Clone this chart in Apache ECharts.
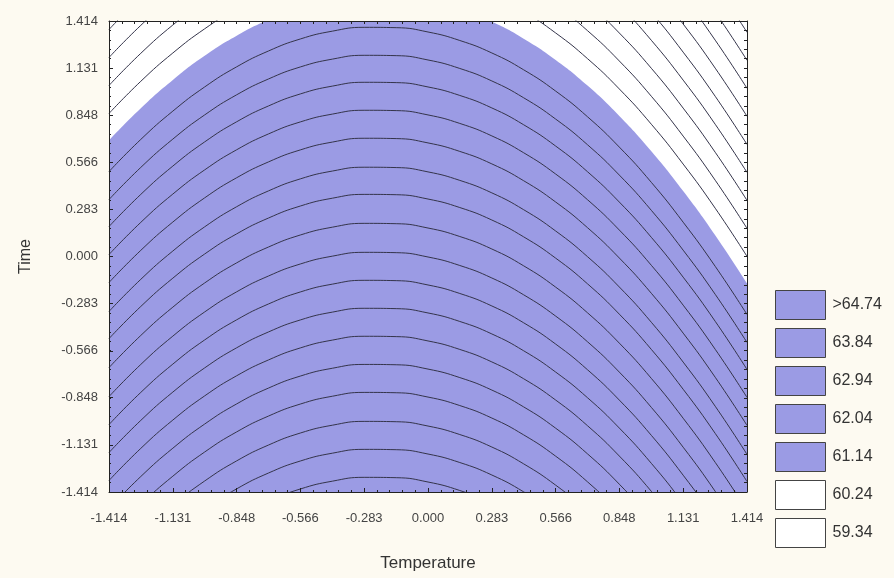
<!DOCTYPE html>
<html>
<head>
<meta charset="utf-8">
<script src="https://cdn.jsdelivr.net/npm/echarts@6/dist/echarts.min.js"></script>
<style>
  html, body { margin: 0; padding: 0; background: #fdfaf1; }
  #chart { width: 894px; height: 578px; }
</style>
</head>
<body>
<div id="chart"></div>
<script>
// Axis ticks (coded design levels) and their printed labels
const axisTicks = [-1.414, -1.131, -0.848, -0.566, -0.283, 0, 0.283, 0.566, 0.848, 1.131, 1.414];
const tickLabels = ['-1.414', '-1.131', '-0.848', '-0.566', '-0.283', '0.000', '0.283', '0.566', '0.848', '1.131', '1.414'];

// Temperature positions at which each contour line is traced
const tempGrid = [-1.414, -1.273, -1.131, -0.990, -0.848, -0.707, -0.566, -0.424, -0.283, -0.141, 0,
                  0.141, 0.283, 0.424, 0.566, 0.707, 0.848, 0.990, 1.131, 1.273, 1.414];
// How far (in Time units) a contour line sits below its crest at each Temperature position
const contourProfile = [0.868, 0.675, 0.505, 0.360, 0.239, 0.144, 0.072, 0.025, 0.002, 0.004, 0.030,
                        0.081, 0.156, 0.257, 0.385, 0.539, 0.721, 0.933, 1.172, 1.437, 1.726];

// Crest height of each contour line inside the shaded region
const innerCrests = [1.378, 1.210, 1.048, 0.880, 0.712, 0.538, 0.375, 0.201, 0.027,
                     -0.141, -0.309, -0.477, -0.646, -0.814, -0.988, -1.156, -1.324];
// Crest height of each contour line in the unshaded corners
const outerCrests = [1.727, 1.895, 2.063, 2.231, 2.399, 2.568, 2.736, 2.904, 3.072];
// Crest height of the edge of the shaded region
const fillCrest = 1.565;

// Legend classes
const legendLabels = ['>64.74', '63.84', '62.94', '62.04', '61.14', '60.24', '59.34'];
const legendShaded = [true, true, true, true, true, false, false];

const FILL = '#9b9be4';
const LINE = '#34344a';

function curve(crest) {
  return tempGrid.map((x, i) => [x, +(crest - contourProfile[i]).toFixed(3)]);
}

const series = [];
series.push({
  name: 'region',
  type: 'line',
  data: curve(fillCrest),
  smooth: true,
  symbol: 'none',
  silent: true,
  clip: true,
  lineStyle: { width: 0, opacity: 0 },
  areaStyle: { color: FILL, opacity: 1, origin: 'start' },
  z: 2
});
innerCrests.concat(outerCrests).forEach((c, k) => {
  series.push({
    name: 'contour' + k,
    type: 'line',
    data: curve(c),
    smooth: true,
    symbol: 'none',
    silent: true,
    clip: true,
    lineStyle: { color: LINE, width: 1 },
    z: 3
  });
});
legendLabels.forEach((lab, i) => {
  series.push({
    name: lab,
    type: 'scatter',
    data: [],
    itemStyle: { color: legendShaded[i] ? FILL : '#ffffff', opacity: 1 }
  });
});

const frame = '#222';
const font = 'Liberation Sans, Arial, sans-serif';
const fine = 0.05656;
const tickText = v => { const i = axisTicks.indexOf(v); return i >= 0 ? tickLabels[i] : v.toFixed(3); };

const option = {
  backgroundColor: '#fdfaf1',
  animation: false,
  grid: { left: 109, top: 21, width: 638, height: 471, show: true, backgroundColor: '#ffffff', borderWidth: 0 },
  legend: {
    orient: 'vertical',
    left: 775,
    top: 290,
    padding: 0,
    itemWidth: 50,
    itemHeight: 29,
    itemGap: 8,
    icon: 'rect',
    selectedMode: false,
    data: legendLabels.map((lab, i) => ({
      name: lab,
      itemStyle: { color: legendShaded[i] ? FILL : '#ffffff', opacity: 1, borderColor: '#444', borderWidth: 1 }
    })),
    textStyle: { fontFamily: font, fontSize: 16, color: '#333', padding: [0, 0, 0, 2] }
  },
  xAxis: [
    {
      type: 'value', position: 'bottom', min: -1.414, max: 1.414, z: 10,
      name: 'Temperature', nameLocation: 'middle', nameGap: 63,
      nameTextStyle: { fontFamily: font, fontSize: 17, color: '#333' },
      splitLine: { show: false },
      axisLine: { show: true, onZero: false, lineStyle: { color: frame, width: 1 } },
      axisTick: { show: true, inside: true, length: 4, customValues: axisTicks, lineStyle: { color: frame } },
      axisLabel: {
        show: true, margin: 20, customValues: axisTicks, fontFamily: font, fontSize: 13, color: '#444',
        formatter: tickText
      }
    },
    {
      type: 'value', position: 'top', min: -1.414, max: 1.414, interval: fine, z: 10,
      splitLine: { show: false },
      axisLine: { show: true, onZero: false, lineStyle: { color: frame, width: 1 } },
      axisTick: { show: true, inside: true, length: 3, lineStyle: { color: frame } },
      axisLabel: { show: false }
    },
    {
      type: 'value', position: 'bottom', min: -1.414, max: 1.414, interval: fine, z: 10,
      splitLine: { show: false },
      axisLine: { show: false, onZero: false },
      axisTick: { show: true, inside: true, length: 2, lineStyle: { color: frame } },
      axisLabel: { show: false }
    }
  ],
  yAxis: [
    {
      type: 'value', position: 'left', min: -1.414, max: 1.414, z: 10,
      name: 'Time', nameLocation: 'middle', nameGap: 75, nameRotate: 90,
      nameTextStyle: { fontFamily: font, fontSize: 16, color: '#333' },
      splitLine: { show: false },
      axisLine: { show: true, onZero: false, lineStyle: { color: frame, width: 1 } },
      axisTick: { show: true, inside: true, length: 4, customValues: axisTicks, lineStyle: { color: frame } },
      axisLabel: {
        show: true, margin: 11, customValues: axisTicks, fontFamily: font, fontSize: 13, color: '#444',
        formatter: tickText
      }
    },
    {
      type: 'value', position: 'right', min: -1.414, max: 1.414, interval: fine, z: 10,
      splitLine: { show: false },
      axisLine: { show: true, onZero: false, lineStyle: { color: frame, width: 1 } },
      axisTick: { show: true, inside: true, length: 3, lineStyle: { color: frame } },
      axisLabel: { show: false }
    },
    {
      type: 'value', position: 'left', min: -1.414, max: 1.414, interval: fine, z: 10,
      splitLine: { show: false },
      axisLine: { show: false, onZero: false },
      axisTick: { show: true, inside: true, length: 2, lineStyle: { color: frame } },
      axisLabel: { show: false }
    }
  ],
  series: series
};

const chart = echarts.init(document.getElementById('chart'), null, { renderer: 'canvas' });
chart.setOption(option);
</script>
</body>
</html>
